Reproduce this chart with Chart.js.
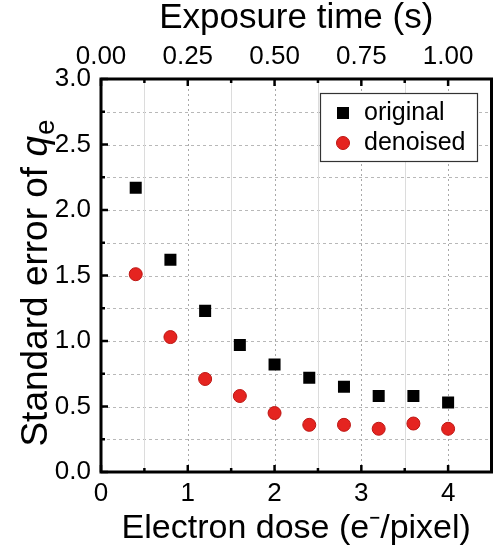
<!DOCTYPE html>
<html>
<head>
<meta charset="utf-8">
<script src="https://cdn.jsdelivr.net/npm/chart.js@4"></script>
<style>
  html, body { margin: 0; padding: 0; background: #fff; }
  #wrap { width: 500px; height: 552px; }
</style>
</head>
<body>
<div id="wrap"><canvas id="seChart" width="500" height="552"></canvas></div>
<script>
// ============================
// DATA
// ============================
const dose = [0.4, 0.8, 1.2, 1.6, 2.0, 2.4, 2.8, 3.2, 3.6, 4.0];
const original = [2.17, 1.62, 1.23, 0.97, 0.82, 0.72, 0.65, 0.58, 0.58, 0.53];
const denoised = [1.51, 1.03, 0.71, 0.58, 0.45, 0.36, 0.36, 0.33, 0.37, 0.33];

const xTicks = [0, 1, 2, 3, 4];
const xMinorTicks = [0.5, 1.5, 2.5, 3.5];
const topTickLabels = ["0.00", "0.25", "0.50", "0.75", "1.00"];
const yTicks = [0, 0.5, 1.0, 1.5, 2.0, 2.5, 3.0];
const yMinorTicks = [0.25, 0.75, 1.25, 1.75, 2.25, 2.75];

const FONT = "'Liberation Sans', Arial, sans-serif";

// ============================
// FRAME, GRID, TICKS, Y TITLE, LEGEND
// ============================
const framePlugin = {
  id: "frame",
  beforeDatasetsDraw(chart) {
    const { ctx, chartArea: a } = chart;
    const x = chart.scales.x, y = chart.scales.y;
    ctx.save();
    ctx.lineWidth = 1;
    // horizontal dashed grid
    ctx.strokeStyle = "#b8b8b8";
    ctx.setLineDash([3, 3]);
    [...yTicks, ...yMinorTicks].forEach(v => {
      if (v <= 0 || v >= 3) return;
      const py = Math.round(y.getPixelForValue(v)) + 0.5;
      ctx.beginPath(); ctx.moveTo(a.left, py); ctx.lineTo(a.right, py); ctx.stroke();
    });
    // vertical major dotted
    ctx.strokeStyle = "#a8a8a8";
    ctx.setLineDash([2, 3]);
    xTicks.forEach(v => {
      if (v <= 0) return;
      const px = Math.round(x.getPixelForValue(v)) + 0.5;
      ctx.beginPath(); ctx.moveTo(px, a.top); ctx.lineTo(px, a.bottom); ctx.stroke();
    });
    // vertical minor solid
    ctx.strokeStyle = "#dcdcdc";
    ctx.setLineDash([]);
    xMinorTicks.forEach(v => {
      const px = Math.round(x.getPixelForValue(v)) + 0.5;
      ctx.beginPath(); ctx.moveTo(px, a.top); ctx.lineTo(px, a.bottom); ctx.stroke();
    });
    ctx.restore();
  },
  afterDatasetsDraw(chart) {
    const { ctx, chartArea: a } = chart;
    const x = chart.scales.x, y = chart.scales.y;
    ctx.save();
    ctx.strokeStyle = "#000";
    ctx.lineWidth = 2.5;
    // inward ticks
    const tickX = (vals, len) => vals.forEach(v => {
      const px = x.getPixelForValue(v);
      ctx.beginPath(); ctx.moveTo(px, a.bottom); ctx.lineTo(px, a.bottom - len); ctx.stroke();
      ctx.beginPath(); ctx.moveTo(px, a.top); ctx.lineTo(px, a.top + len); ctx.stroke();
    });
    tickX(xTicks, 7);
    tickX(xMinorTicks, 4);
    const tickY = (vals, len) => vals.forEach(v => {
      const py = y.getPixelForValue(v);
      ctx.beginPath(); ctx.moveTo(a.left, py); ctx.lineTo(a.left + len, py); ctx.stroke();
    });
    tickY(yTicks, 7);
    tickY(yMinorTicks, 4);
    // frame
    ctx.lineWidth = 3;
    ctx.strokeRect(a.left, a.top, a.right - a.left, a.bottom - a.top);

    // y title with italic q and subscript e
    ctx.translate(47, (a.top + a.bottom) / 2 + 8);
    ctx.rotate(-Math.PI / 2);
    ctx.fillStyle = "#000";
    ctx.textBaseline = "alphabetic";
    const main = "Standard error of ";
    ctx.font = "37px " + FONT;
    const w1 = ctx.measureText(main).width;
    ctx.font = "italic 37px " + FONT;
    const w2 = ctx.measureText("q").width;
    ctx.font = "28px " + FONT;
    const w3 = ctx.measureText("e").width;
    let sx = -(w1 + w2 + w3) / 2;
    ctx.font = "37px " + FONT;
    ctx.fillText(main, sx, 0);
    sx += w1;
    ctx.font = "italic 37px " + FONT;
    ctx.fillText("q", sx, 0);
    sx += w2 + 1;
    ctx.font = "28px " + FONT;
    ctx.fillText("e", sx, 7);
    ctx.restore();

    // legend box
    ctx.save();
    const lx = 320, ly = 93, lw = 157, lh = 68;
    ctx.fillStyle = "#fff";
    ctx.fillRect(lx, ly, lw, lh);
    ctx.strokeStyle = "#333";
    ctx.lineWidth = 1.2;
    ctx.strokeRect(lx + 0.5, ly + 0.5, lw, lh);
    chart.data.datasets.forEach((ds, i) => {
      const cy = ly + 20 + i * 30;
      ctx.fillStyle = ds.backgroundColor;
      ctx.strokeStyle = ds.borderColor;
      ctx.lineWidth = 1;
      if (ds.pointStyle === "rect") {
        ctx.fillRect(343 - 6, cy - 6, 12, 12);
      } else {
        ctx.beginPath(); ctx.arc(343, cy, 6.5, 0, Math.PI * 2); ctx.fill(); ctx.stroke();
      }
      ctx.fillStyle = "#000";
      ctx.font = "25px " + FONT;
      ctx.textBaseline = "middle";
      ctx.fillText(ds.label, 364, cy);
    });
    ctx.restore();
  }
};

// ============================
// CHART
// ============================
const ctx = document.getElementById("seChart").getContext("2d");

new Chart(ctx, {
  type: "scatter",
  data: {
    datasets: [
      {
        label: "original",
        data: dose.map((d, i) => ({ x: d, y: original[i] })),
        pointStyle: "rect",
        pointRadius: 8.5,
        backgroundColor: "#000",
        borderColor: "#000",
        borderWidth: 0
      },
      {
        label: "denoised",
        data: dose.map((d, i) => ({ x: d, y: denoised[i] })),
        pointStyle: "circle",
        pointRadius: 6.5,
        backgroundColor: "#e52420",
        borderColor: "#bd1613",
        borderWidth: 1
      }
    ]
  },
  options: {
    responsive: false,
    animation: false,
    layout: { padding: { right: 6, left: 0, top: 0, bottom: 0 } },
    plugins: { legend: { display: false }, tooltip: { enabled: false } },
    scales: {
      x: {
        type: "linear",
        position: "bottom",
        min: 0,
        max: 4.5,
        afterBuildTicks: s => { s.ticks = xTicks.map(v => ({ value: v })); },
        afterFit: s => { s.height = 80; },
        grid: { display: false, drawTicks: false },
        border: { display: false },
        ticks: { color: "#000", font: { size: 26, family: FONT }, padding: 6, maxRotation: 0 },
        title: {
          display: true,
          text: "Electron dose (e\u207B/pixel)",
          color: "#000",
          font: { size: 34, family: FONT },
          padding: { top: 0, bottom: 3 }
        }
      },
      xTop: {
        type: "linear",
        position: "top",
        min: 0,
        max: 4.5,
        afterBuildTicks: s => { s.ticks = xTicks.map(v => ({ value: v })); },
        afterFit: s => { s.height = 79; },
        grid: { display: false, drawTicks: false },
        border: { display: false },
        ticks: {
          color: "#000",
          font: { size: 26, family: FONT },
          padding: 7,
          maxRotation: 0,
          callback: (v) => topTickLabels[xTicks.indexOf(v)]
        },
        title: {
          display: true,
          text: "Exposure time (s)",
          color: "#000",
          font: { size: 35, family: FONT },
          padding: { top: -3, bottom: 0 }
        }
      },
      y: {
        type: "linear",
        position: "left",
        min: 0,
        max: 3,
        afterBuildTicks: s => { s.ticks = yTicks.map(v => ({ value: v })); },
        afterFit: s => { s.width = 101; },
        grid: { display: false, drawTicks: false },
        border: { display: false },
        ticks: {
          color: "#000",
          font: { size: 26, family: FONT },
          padding: 10,
          callback: (v) => v.toFixed(1)
        }
      }
    }
  },
  plugins: [framePlugin]
});
</script>
</body>
</html>
